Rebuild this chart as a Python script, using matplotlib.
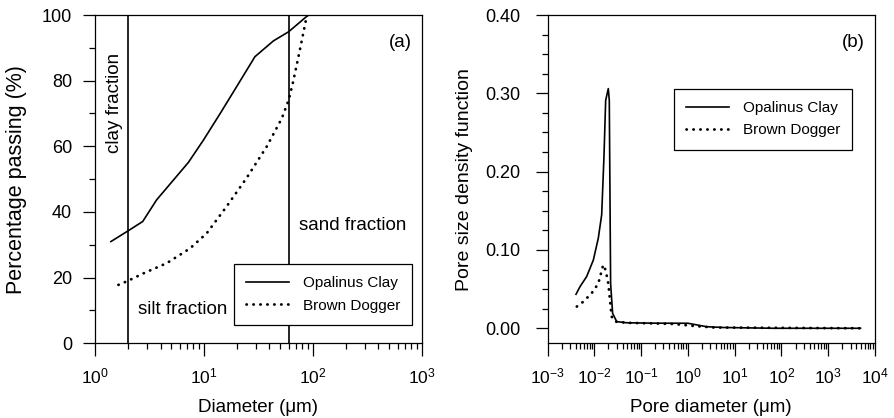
import matplotlib
matplotlib.use("Agg")
import matplotlib.pyplot as plt
import matplotlib.ticker as mticker
import numpy as np

plt.rcParams.update({
    "font.family": "Liberation Sans",
    "mathtext.fontset": "custom",
    "mathtext.rm": "Liberation Sans",
    "mathtext.it": "Liberation Sans",
    "mathtext.default": "regular",
    "axes.unicode_minus": False,
    "font.size": 13,
    "axes.linewidth": 0.9,
})

# ── (a) grain size distribution ─────────────────────────────────────────────
opa_d = [1.40, 2.0, 2.74, 3.68, 7.2, 9.9, 14.1, 20.0, 29.4, 43.4, 60.0, 91.0]
opa_p = [31.0, 34.2, 37.1, 43.7, 55.1, 61.9, 70.0, 78.2, 87.3, 92.1, 94.9, 100.0]
bd_d = [1.64, 2.0, 2.78, 4.55, 7.45, 10.6, 16.1, 24.6, 37.7, 51.9, 60.0, 66.0, 76.0, 86.5, 90.0]
bd_p = [17.8, 19.0, 21.3, 24.4, 28.9, 33.5, 41.6, 50.3, 59.9, 68.5, 74.1, 79.7, 89.3, 98.5, 100.0]
bounds = [2.0, 60.0]   # clay/silt and silt/sand limits (µm)

# ── (b) pore size density ───────────────────────────────────────────────────
opa_pd = [0.00404, 0.0049, 0.00682, 0.00947, 0.0121, 0.0143, 0.016, 0.0174, 0.0198,
          0.0208, 0.0222, 0.0245, 0.030, 0.049, 0.2, 1.0, 2.5, 5.6, 67.0, 4900.0]
opa_f = [0.0434, 0.053, 0.066, 0.087, 0.115, 0.145, 0.219, 0.291, 0.306,
         0.291, 0.057, 0.019, 0.0085, 0.007, 0.0065, 0.0064, 0.002, 0.001, 0.0, 0.0]
bd_pd = [0.0042, 0.0058, 0.0087, 0.0121, 0.0154, 0.0174, 0.0198, 0.0215, 0.0233,
         0.0275, 0.049, 0.49, 1.3, 3.5, 4900.0]
bd_f = [0.0277, 0.034, 0.0447, 0.057, 0.081, 0.074, 0.057, 0.036, 0.015,
        0.0085, 0.007, 0.0055, 0.003, 0.001, 0.0]

DOT = dict(color="black", lw=2.0, ls=(0, (0.1, 2.4)), dash_capstyle="round")
SOLID = dict(color="black", lw=1.2)


def _style(ax, ypad):
    ax.tick_params(which="major", direction="out", length=9, width=0.9)
    ax.tick_params(which="minor", direction="out", length=4.5, width=0.9)
    ax.tick_params(axis="x", which="major", pad=8, labelsize=12.5)
    ax.tick_params(axis="y", which="major", pad=ypad, labelsize=13)


def _legend(ax, **kw):
    leg = ax.legend(fontsize=11, fancybox=False, edgecolor="black", framealpha=1,
                    handlelength=2.8, handletextpad=0.9, borderpad=0.8,
                    labelspacing=0.55, borderaxespad=0, **kw)
    leg.get_frame().set_linewidth(0.9)
    return leg


fig = plt.figure(figsize=(8.94, 4.18), dpi=100)
ax_a = fig.add_axes([0.1063, 0.1787, 0.3654, 0.7854])
ax_b = fig.add_axes([0.6126, 0.1787, 0.3661, 0.7854])

# panel (a)
ax_a.plot(opa_d, opa_p, label="Opalinus Clay", **SOLID)
ax_a.plot(bd_d, bd_p, label="Brown Dogger", **DOT)
for b in bounds:
    ax_a.axvline(b, color="black", lw=1.2)
ax_a.set_xscale("log")
ax_a.set_xlim(1, 1000)
ax_a.set_ylim(0, 100)
ax_a.set_yticks([0, 20, 40, 60, 80, 100])
ax_a.yaxis.set_minor_locator(mticker.MultipleLocator(10))
ax_a.xaxis.set_minor_locator(mticker.LogLocator(base=10, subs=np.arange(2, 10), numticks=20))
ax_a.xaxis.set_minor_formatter(mticker.NullFormatter())
ax_a.set_xlabel("Diameter (μm)", fontsize=13.5)
ax_a.set_ylabel("Percentage passing (%)", fontsize=15.5)
ax_a.xaxis.set_label_coords(0.5, -0.197)
ax_a.yaxis.set_label_coords(-0.239, 0.5)
ax_a.xaxis.label.set_va("center")
ax_a.yaxis.label.set_va("center")
_style(ax_a, 7.5)
ax_a.text(0.934, 0.915, "(a)", transform=ax_a.transAxes, ha="center", va="center", fontsize=13.5)
ax_a.text(0.061, 0.732, "clay fraction", transform=ax_a.transAxes, rotation=90,
          ha="center", va="center", fontsize=13.5)
ax_a.text(0.789, 0.360, "sand fraction", transform=ax_a.transAxes, ha="center", va="center", fontsize=13.5)
ax_a.text(0.268, 0.104, "silt fraction", transform=ax_a.transAxes, ha="center", va="center", fontsize=13.5)
_legend(ax_a, loc="lower right", bbox_to_anchor=(0.971, 0.056))

# panel (b)
ax_b.plot(opa_pd, opa_f, label="Opalinus Clay", **SOLID)
ax_b.plot(bd_pd, bd_f, label="Brown Dogger", **DOT)
ax_b.set_xscale("log")
ax_b.set_xlim(1e-3, 1e4)
ax_b.set_ylim(-0.0192, 0.40)
ax_b.set_yticks([0.0, 0.1, 0.2, 0.3, 0.4])
ax_b.yaxis.set_major_formatter(mticker.FormatStrFormatter("%.2f"))
ax_b.yaxis.set_minor_locator(mticker.FixedLocator(np.arange(0.025, 0.40, 0.025)))
ax_b.xaxis.set_major_locator(mticker.LogLocator(base=10, numticks=20))
ax_b.xaxis.set_minor_locator(mticker.LogLocator(base=10, subs=np.arange(2, 10), numticks=20))
ax_b.xaxis.set_minor_formatter(mticker.NullFormatter())
ax_b.set_xlabel("Pore diameter (μm)", fontsize=13.5)
ax_b.set_ylabel("Pore size density function", fontsize=14)
ax_b.xaxis.set_label_coords(0.5, -0.197)
ax_b.yaxis.set_label_coords(-0.253, 0.5)
ax_b.xaxis.label.set_va("center")
ax_b.yaxis.label.set_va("center")
_style(ax_b, 10.5)
ax_b.text(0.934, 0.915, "(b)", transform=ax_b.transAxes, ha="center", va="center", fontsize=13.5)
_legend(ax_b, loc="upper right", bbox_to_anchor=(0.931, 0.775))

fig.savefig("out.png", dpi=100)
